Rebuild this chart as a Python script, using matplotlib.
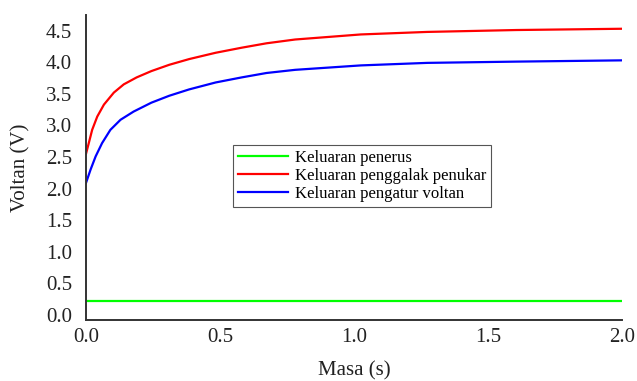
import numpy as np
import matplotlib.pyplot as plt

plt.rcParams['font.family'] = ['Liberation Serif', 'DejaVu Serif']

# values
masa_a = [0.0, 0.011, 0.023, 0.042, 0.067, 0.104, 0.141, 0.189, 0.244, 0.311,
          0.385, 0.484, 0.581, 0.674, 0.781, 1.026, 1.274, 1.607, 2.0]
penggalak = [2.55, 2.73, 2.93, 3.14, 3.33, 3.52, 3.65, 3.76, 3.86, 3.96,
             4.05, 4.15, 4.23, 4.30, 4.36, 4.44, 4.48, 4.51, 4.53]

masa_b = [0.0, 0.017, 0.036, 0.060, 0.091, 0.129, 0.178, 0.244, 0.311, 0.385,
          0.484, 0.581, 0.674, 0.781, 1.026, 1.274, 1.607, 2.0]
pengatur = [2.09, 2.30, 2.51, 2.72, 2.93, 3.09, 3.22, 3.36, 3.47, 3.57,
            3.68, 3.76, 3.83, 3.88, 3.95, 3.99, 4.01, 4.03]

masa_c = [0.0, 2.0]
penerus = [0.22, 0.22]

xticks = [0.0, 0.5, 1.0, 1.5, 2.0]
yticks = [0.0, 0.5, 1.0, 1.5, 2.0, 2.5, 3.0, 3.5, 4.0, 4.5]

fig = plt.figure(figsize=(6.37, 3.81), dpi=100)
ax = fig.add_axes([0.135, 0.16, 0.841, 0.801])

ax.plot(masa_c, penerus, color='#00ff00', lw=1.6, label='Keluaran penerus')
ax.plot(masa_a, penggalak, color='#ff0000', lw=1.6, label='Keluaran penggalak penukar')
ax.plot(masa_b, pengatur, color='#0000ff', lw=1.6, label='Keluaran pengatur voltan')

ax.set_xlim(0, 2.0)
ax.set_ylim(-0.08, 4.75)
ax.set_xticks(xticks)
ax.set_yticks(yticks)
ax.set_xticklabels([f'{v:.1f}' for v in xticks])
ax.set_yticklabels([f'{v:.1f}' for v in yticks])
ax.tick_params(length=0, labelsize=15, colors='#222222')
ax.tick_params(axis='y', pad=10)
ax.tick_params(axis='x', pad=6)

for s in ['top', 'right']:
    ax.spines[s].set_visible(False)
for s in ['left', 'bottom']:
    ax.spines[s].set_color('#333333')
    ax.spines[s].set_linewidth(1.4)

ax.set_xlabel('Masa (s)', fontsize=15, color='#222222', labelpad=10)
ax.set_ylabel('Voltan (V)', fontsize=15, color='#222222', labelpad=11)

leg = ax.legend(loc='upper left', bbox_to_anchor=(0.275, 0.574), borderaxespad=0,
                fontsize=12, fancybox=False, framealpha=1, edgecolor='#555555',
                handlelength=3.0, handletextpad=0.4, labelspacing=0.12,
                borderpad=0.3)
leg.get_frame().set_linewidth(0.8)

fig.savefig('out.png', dpi=100)
